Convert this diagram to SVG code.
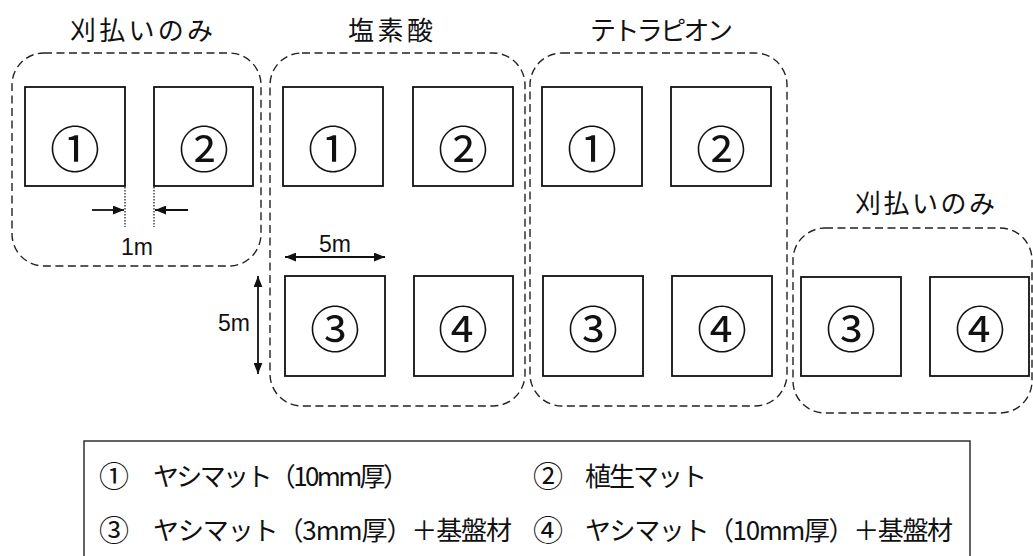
<svg xmlns="http://www.w3.org/2000/svg" width="1033" height="556" viewBox="0 0 1033 556">
<defs>
<marker id="ah" viewBox="0 0 10 8" refX="10" refY="4" markerWidth="11" markerHeight="9" markerUnits="userSpaceOnUse" orient="auto-start-reverse">
<path d="M0,0 L10,4 L0,8 z" fill="#111"/>
</marker>
<style>
.grp{fill:none;stroke:#222;stroke-width:1.4;stroke-dasharray:8 4.5}
.plot{fill:#fff;stroke:#111;stroke-width:1.8}
.num{font-family:"Noto Sans CJK JP","Liberation Sans",sans-serif;font-size:50px;fill:#111;text-anchor:middle}
.title{font-family:"Noto Sans CJK JP",sans-serif;font-size:26px;fill:#111}
.dim{font-family:"Liberation Sans",Arial,sans-serif;font-size:23px;fill:#111}
.leg{font-family:"Noto Sans CJK JP",sans-serif;font-size:26px;fill:#111}
.legn{font-family:"Noto Sans CJK JP",sans-serif;font-size:30px;fill:#111}
.arr{stroke:#111;stroke-width:1.8;fill:none}
.dot{stroke:#111;stroke-width:1.2;stroke-dasharray:1.5 1.5}
</style>
</defs>
<rect width="1033" height="556" fill="#fff"/>

<g id="group1">
<rect class="grp" x="12" y="53" width="249" height="213" rx="32"/>
<text class="title" x="70" y="40" textLength="143" lengthAdjust="spacing">刈払いのみ</text>
<g id="g1-p1"><rect class="plot" x="25" y="87" width="100" height="99"/><text class="num" x="75" y="168">①</text></g>
<g id="g1-p2"><rect class="plot" x="154" y="87" width="99" height="99"/><text class="num" x="204" y="168">②</text></g>
</g>

<g id="group2">
<rect class="grp" x="270" y="53" width="255" height="353" rx="32"/>
<text class="title" x="348" y="40" textLength="85" lengthAdjust="spacing">塩素酸</text>
<g id="g2-p1"><rect class="plot" x="283" y="87" width="100" height="99"/><text class="num" x="333" y="168">①</text></g>
<g id="g2-p2"><rect class="plot" x="413" y="87" width="100" height="99"/><text class="num" x="463" y="168">②</text></g>
<g id="g2-p3"><rect class="plot" x="285" y="276" width="100" height="100"/><text class="num" x="335" y="348">③</text></g>
<g id="g2-p4"><rect class="plot" x="414" y="276" width="99" height="100"/><text class="num" x="463" y="348">④</text></g>
</g>

<g id="group3">
<rect class="grp" x="530" y="53" width="257" height="353" rx="32"/>
<text class="title" x="590" y="40" textLength="143" lengthAdjust="spacing">テトラピオン</text>
<g id="g3-p1"><rect class="plot" x="542" y="87" width="100" height="99"/><text class="num" x="592" y="168">①</text></g>
<g id="g3-p2"><rect class="plot" x="671" y="87" width="100" height="99"/><text class="num" x="721" y="168">②</text></g>
<g id="g3-p3"><rect class="plot" x="543" y="276" width="100" height="100"/><text class="num" x="593" y="348">③</text></g>
<g id="g3-p4"><rect class="plot" x="672" y="276" width="100" height="100"/><text class="num" x="722" y="348">④</text></g>
</g>

<g id="group4">
<rect class="grp" x="793" y="228" width="239" height="185" rx="32"/>
<text class="title" x="855" y="213" textLength="140" lengthAdjust="spacing">刈払いのみ</text>
<g id="g4-p3"><rect class="plot" x="801" y="277" width="100" height="99"/><text class="num" x="851" y="348">③</text></g>
<g id="g4-p4"><rect class="plot" x="930" y="277" width="99" height="99"/><text class="num" x="980" y="348">④</text></g>
</g>

<g id="connectors">
<line class="dot" x1="125" y1="187" x2="125" y2="227"/>
<line class="dot" x1="154" y1="187" x2="154" y2="227"/>
<line class="arr" x1="92" y1="210" x2="124" y2="210" marker-end="url(#ah)"/>
<line class="arr" x1="188" y1="210" x2="155" y2="210" marker-end="url(#ah)"/>
<line class="arr" x1="285" y1="257" x2="385" y2="257" marker-start="url(#ah)" marker-end="url(#ah)"/>
<line class="arr" x1="258" y1="276" x2="258" y2="374" marker-start="url(#ah)" marker-end="url(#ah)"/>
</g>

<g id="dim-labels">
<text class="dim" x="137" y="255" text-anchor="middle">1m</text>
<text class="dim" x="335" y="252" text-anchor="middle">5m</text>
<text class="dim" x="234" y="331" text-anchor="middle">5m</text>
</g>

<g id="legend">
<rect x="84" y="441" width="886" height="130" fill="none" stroke="#222" stroke-width="1.4"/>
<text class="legn" x="99" y="487">①</text>
<text class="leg" x="153" y="486" textLength="256" lengthAdjust="spacing">ヤシマット（10mm厚）</text>
<text class="legn" x="533" y="487">②</text>
<text class="leg" x="585" y="486" textLength="122" lengthAdjust="spacing">植生マット</text>
<text class="legn" x="99" y="541">③</text>
<text class="leg" x="153" y="540" textLength="359" lengthAdjust="spacing">ヤシマット（3mm厚）＋基盤材</text>
<text class="legn" x="533" y="541">④</text>
<text class="leg" x="585" y="540" textLength="368" lengthAdjust="spacing">ヤシマット（10mm厚）＋基盤材</text>
</g>
</svg>
